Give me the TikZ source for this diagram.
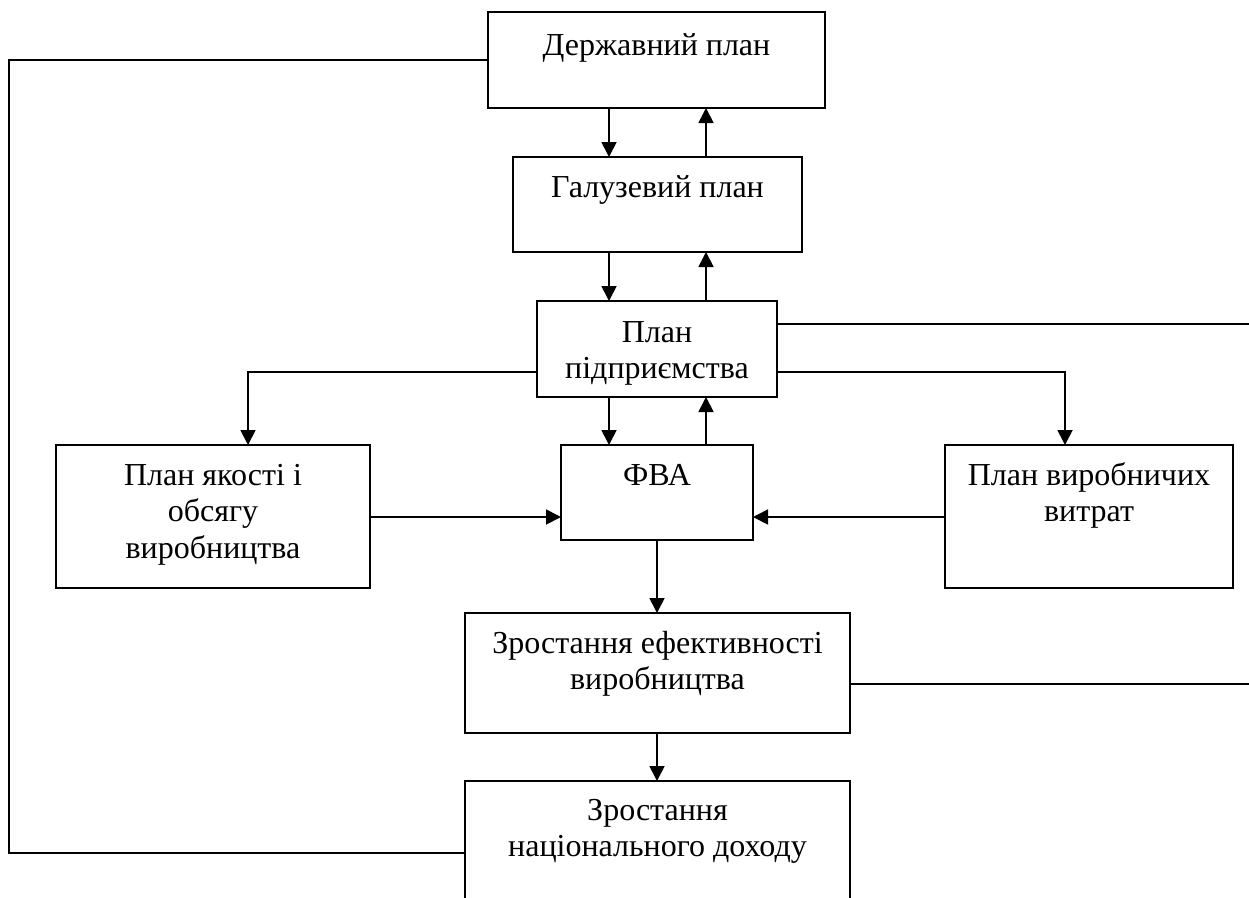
\documentclass[tikz,border=0pt]{standalone}
\usepackage{fontspec}
\setmainfont{Liberation Serif}
\usetikzlibrary{arrows.meta}

\begin{document}
\begin{tikzpicture}[x=1pt,y=-1pt,
      blk/.style={draw,line width=1.8pt,inner sep=0pt,outer sep=0pt,anchor=north west},
      txt/.style={anchor=base,yshift=-40pt,align=center,inner sep=0pt,
                  font=\fontsize{32}{36.5}\selectfont},
      two/.style={txt,yshift=-36.5pt},
      three/.style={txt,yshift=-73pt},
      ln/.style={line width=1.8pt},
      arr/.style={ln,-{Triangle[length=15pt,width=15pt]}}]
    \clip (0,0) rectangle (1249,897);
    \node[blk,minimum width=337pt,minimum height=96pt,label={[txt,yshift=-3pt]north:Державний план}] (dp) at (488,12) {};
    \node[blk,minimum width=289pt,minimum height=95pt,label={[txt]north:Галузевий план}] (gp) at (513,157) {};
    \node[blk,minimum width=240pt,minimum height=96pt,label={[two,yshift=-1pt]north:План\\підприємства}] (pp) at (537,301) {};
    \node[blk,minimum width=192pt,minimum height=95pt,label={[txt]north:ФВА}] (fva) at (561,445) {};
    \node[blk,minimum width=314pt,minimum height=143pt,label={[three]north:План якості і\\обсягу\\виробництва}] (pq) at (56,445) {};
    \node[blk,minimum width=288pt,minimum height=143pt,label={[two]north:План виробничих\\витрат}] (pv) at (945,445) {};
    \node[blk,minimum width=385pt,minimum height=120pt,label={[two]north:Зростання ефективності\\виробництва}] (ze) at (465,613) {};
    \node[blk,minimum width=385pt,minimum height=144pt,label={[two,yshift=1pt]north:Зростання\\національного доходу}] (nd) at (465,781) {};
    \coordinate (dn) at (609,0);
    \coordinate (up) at (706,0);
    \coordinate (mid) at (657,0);
    \coordinate (lft) at (9,0);
    \coordinate (rgt) at (1249,0);
    \draw[arr] (dp.south -| dn) -- (gp.north -| dn);
    \draw[arr] (gp.north -| up) -- (dp.south -| up);
    \draw[arr] (gp.south -| dn) -- (pp.north -| dn);
    \draw[arr] (pp.north -| up) -- (gp.south -| up);
    \draw[arr] (pp.south -| dn) -- (fva.north -| dn);
    \draw[arr] (fva.north -| up) -- (pp.south -| up);
    \draw[arr] ([yshift=-23pt]pp.west) -| ([xshift=35pt]pq.north);
    \draw[arr] ([yshift=-23pt]pp.east) -| ([xshift=-24pt]pv.north);
    \draw[arr] ([yshift=-0.5pt]pq.east) -- ([yshift=-0.5pt]fva.west |- pq.east);
    \draw[arr] ([yshift=-0.5pt]pv.west) -- ([yshift=-0.5pt]fva.east |- pv.west);
    \draw[arr] (fva.south -| mid) -- (ze.north -| mid);
    \draw[arr] (ze.south -| mid) -- (nd.north -| mid);
    \draw[ln] ([yshift=25pt]pp.east) -- ([yshift=25pt]pp.east -| rgt);
    \draw[ln] ([yshift=-11pt]ze.east) -- ([yshift=-11pt]ze.east -| rgt);
    \draw[ln] (dp.west) -- (dp.west -| lft) -- (nd.west -| lft) -- (nd.west);
  \end{tikzpicture}
\end{document}
